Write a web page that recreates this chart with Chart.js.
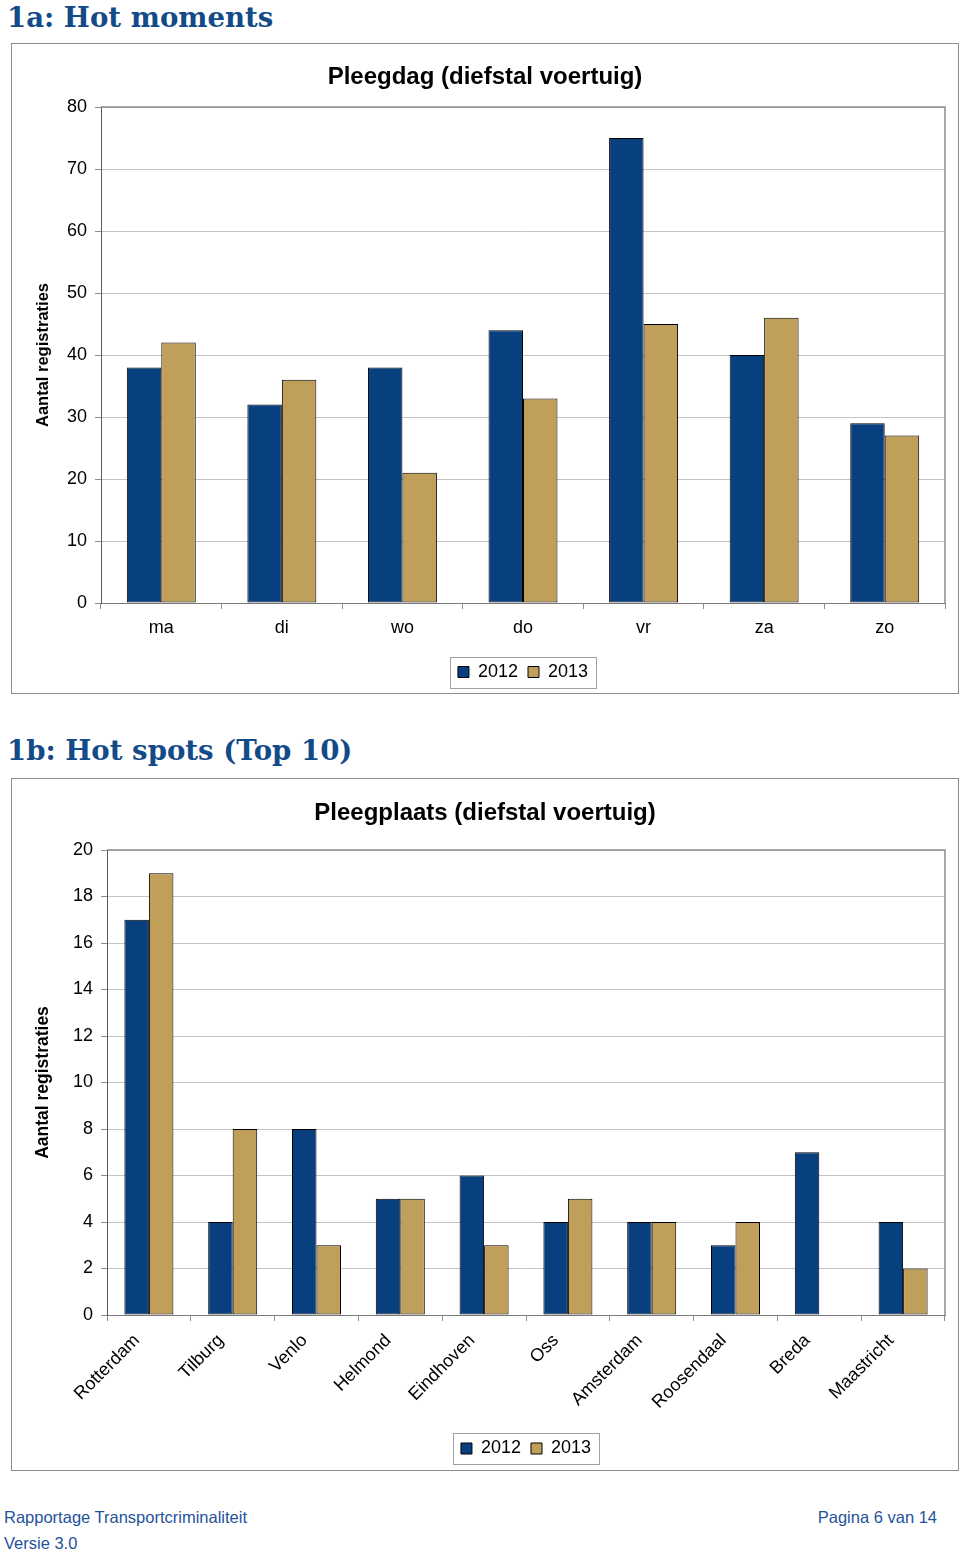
<!DOCTYPE html>
<html><head><meta charset="utf-8">
<script src="https://cdn.jsdelivr.net/npm/chart.js@4.4.0/dist/chart.umd.min.js"></script>
<style>
html,body{margin:0;padding:0;background:#fff;}
body{width:960px;height:1557px;position:relative;overflow:hidden;font-family:"Liberation Sans",Arial,sans-serif;}
.h{position:absolute;left:7px;font-family:"DejaVu Serif",serif;font-weight:bold;font-size:27.6px;line-height:27px;color:#134a88;white-space:nowrap;}
.box{position:absolute;left:11px;width:948px;border:1px solid #8c8c8c;box-sizing:border-box;background:#fff;}
.box canvas{display:block;}
.f{position:absolute;font-size:16.5px;line-height:20px;color:#25539a;white-space:nowrap;}
</style></head><body>
<div class="h" style="top:4px">1a: Hot moments</div>
<div class="box" style="top:43px;height:651px"><canvas id="c1" width="946" height="649"></canvas></div>
<div class="h" style="top:737px">1b: Hot spots (Top 10)</div>
<div class="box" style="top:778px;height:693px"><canvas id="c2" width="946" height="691"></canvas></div>
<div class="f" style="left:4px;top:1507px">Rapportage Transportcriminaliteit</div>
<div class="f" style="left:4px;top:1533px">Versie 3.0</div>
<div class="f" style="right:23px;top:1507px">Pagina 6 van 14</div>
<script>
// ---- data ----
const seriesNames = ['2012', '2013'];
const dayLabels = ['ma', 'di', 'wo', 'do', 'vr', 'za', 'zo'];
const day2012 = [38, 32, 38, 44, 75, 40, 29];
const day2013 = [42, 36, 21, 33, 45, 46, 27];
const dayTicks = [0, 10, 20, 30, 40, 50, 60, 70, 80];

const placeLabels = ['Rotterdam', 'Tilburg', 'Venlo', 'Helmond', 'Eindhoven', 'Oss', 'Amsterdam', 'Roosendaal', 'Breda', 'Maastricht'];
const place2012 = [17, 4, 8, 5, 6, 4, 4, 3, 7, 4];
const place2013 = [19, 8, 3, 5, 3, 5, 4, 4, null, 2];
const placeTicks = [0, 2, 4, 6, 8, 10, 12, 14, 16, 18, 20];

const BLUE = '#083f7e';
const TAN = '#bf9f5a';
const FONT = '"Liberation Sans", Arial, sans-serif';

const framePlugin = {
  id: 'frame',
  afterDatasetsDraw(chart) {
    const {ctx, chartArea: a} = chart;
    ctx.save();
    ctx.strokeStyle = '#8c8c8c';
    ctx.lineWidth = 1.5;
    ctx.beginPath();
    ctx.moveTo(a.left, a.top);
    ctx.lineTo(a.right, a.top);
    ctx.lineTo(a.right, a.bottom);
    ctx.stroke();
    ctx.restore();
  }
};
const legendBoxPlugin = {
  id: 'legendBox',
  afterDraw(chart) {
    const lg = chart.legend;
    const hb = lg && lg.legendHitBoxes;
    if (!hb || !hb.length) return;
    const ctx = chart.ctx;
    const last = hb[hb.length - 1];
    const l = hb[0].left - 8, r = last.left + last.width + 8;
    const cy = hb[0].top + hb[0].height / 2;
    ctx.save();
    ctx.strokeStyle = '#a0a0a0';
    ctx.lineWidth = 1;
    ctx.strokeRect(Math.round(l) + 0.5, Math.round(cy - 15.5) + 0.5, Math.round(r - l), 31);
    ctx.restore();
  }
};

function build(id, labels, a, b, tickVals, cfg) {
  return new Chart(document.getElementById(id), {
    type: 'bar',
    data: {
      labels: labels,
      datasets: [
        {label: seriesNames[0], data: a, backgroundColor: BLUE, borderColor: '#000', borderWidth: 1,
         borderSkipped: false, categoryPercentage: cfg.cat, barPercentage: 1},
        {label: seriesNames[1], data: b, backgroundColor: TAN, borderColor: '#000', borderWidth: 1,
         borderSkipped: false, categoryPercentage: cfg.cat, barPercentage: 1}
      ]
    },
    options: {
      responsive: false, animation: false, devicePixelRatio: 1,
      layout: {padding: {left: 0, right: 0, top: 0, bottom: cfg.padB}},
      plugins: {
        title: {display: true, text: cfg.title, color: '#000',
          font: {family: FONT, size: 24, weight: 'bold'},
          padding: {top: cfg.tT, bottom: cfg.tB}},
        legend: {position: 'bottom', fullSize: false,
          labels: {color: '#000', font: {family: FONT, size: 18}, boxWidth: 11, boxHeight: 11, padding: 10}},
        tooltip: {enabled: false}
      },
      scales: {
        x: {
          grid: {drawOnChartArea: false, drawTicks: true, tickLength: 6, color: '#8a8a8a', offset: true},
          border: {color: '#7a7a7a', width: 1},
          ticks: {color: '#000', font: {family: FONT, size: 18}, autoSkip: false,
            minRotation: cfg.rot, maxRotation: cfg.rot, padding: cfg.xPad, labelOffset: cfg.lOff},
          afterFit(s) { s.height = cfg.xH; }
        },
        y: {
          min: tickVals[0], max: tickVals[tickVals.length - 1],
          afterBuildTicks(s) { s.ticks = tickVals.map(v => ({value: v})); },
          ticks: {color: '#000', font: {family: FONT, size: 18}, padding: 8},
          grid: {color: '#c4c4c4', tickLength: 6, tickColor: '#8a8a8a'},
          border: {color: '#5a5a5a', width: 1},
          title: {display: true, text: 'Aantal registraties', color: '#000',
            font: {family: FONT, size: cfg.yTS, weight: 'bold'}, padding: {top: cfg.yTP, bottom: 0}},
          afterFit(s) { s.width = cfg.yW; }
        },
        spacer: {
          type: 'linear', position: 'right', display: true,
          grid: {display: false, drawTicks: false}, ticks: {display: false}, border: {display: false},
          afterFit(s) { s.width = 13; }
        }
      }
    },
    plugins: [framePlugin, legendBoxPlugin]
  });
}

build('c1', dayLabels, day2012, day2013, dayTicks, {
  cat: 0.572, padB: 2, title: 'Pleegdag (diefstal voertuig)', tT: 18.6, tB: 15.6,
  rot: 0, xPad: 8.2, lOff: 0, xH: 50, yW: 89, yTS: 16.5, yTP: 21.1
});
build('c2', placeLabels, place2012, place2013, placeTicks, {
  cat: 0.585, padB: 2.5, title: 'Pleegplaats (diefstal voertuig)', tT: 19.6, tB: 22.6,
  rot: 45, xPad: 9, lOff: -12, xH: 114.5, yW: 95, yTS: 17.5, yTP: 20.5
});
</script>
</body></html>
